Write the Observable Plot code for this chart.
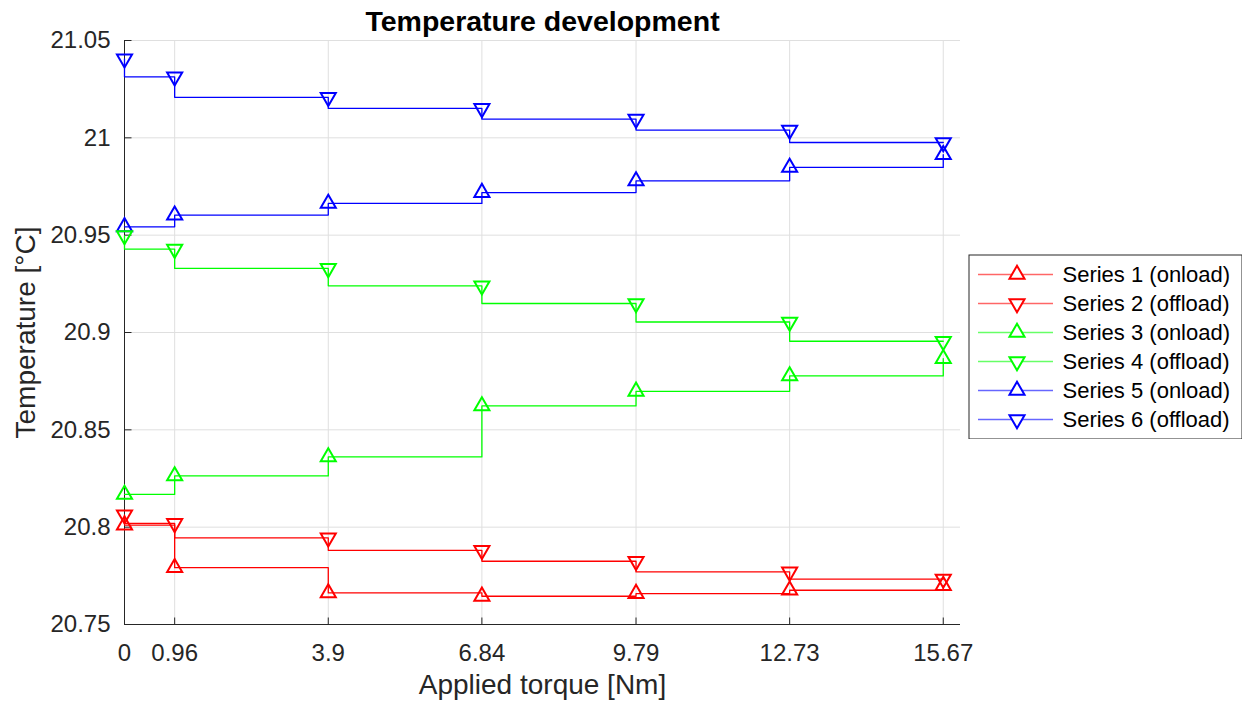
<!DOCTYPE html>
<html>
<head>
<meta charset="utf-8">
<script src="https://cdn.jsdelivr.net/npm/d3@7"></script>
<script src="https://cdn.jsdelivr.net/npm/@observablehq/plot@0.6"></script>
<style>
  body { margin: 0; background: #fff; }
  #wrap { position: relative; width: 1242px; height: 701px; font-family: "Liberation Sans", Arial, Helvetica, sans-serif; }
  #legend { position: absolute; left: 968px; top: 254px; }
</style>
</head>
<body>
<div id="wrap"><div id="main"></div><div id="legend"></div></div>
<script>
// Applied torque steps [Nm]
const torque = [0, 0.96, 3.9, 6.84, 9.79, 12.73, 15.67];

// Temperature [°C] at each torque step
const series1 = [20.8011, 20.7792, 20.7662, 20.7645, 20.7659, 20.7676, 20.7700];
const series2 = [20.8063, 20.8019, 20.7945, 20.7881, 20.7825, 20.7770, 20.7733];
const series3 = [20.8168, 20.8263, 20.8361, 20.8623, 20.8698, 20.8777, 20.8866];
const series4 = [20.9498, 20.9428, 20.9329, 20.9240, 20.9149, 20.9054, 20.8955];
const series5 = [20.9543, 20.9603, 20.9663, 20.9719, 20.9779, 20.9848, 20.9913];
const series6 = [21.0406, 21.0313, 21.0208, 21.0151, 21.0096, 21.0040, 20.9976];

const seriesNames = [
  "Series 1 (onload)", "Series 2 (offload)", "Series 3 (onload)",
  "Series 4 (offload)", "Series 5 (onload)", "Series 6 (offload)"
];
const seriesKind = ["onload", "offload", "onload", "offload", "onload", "offload"];
const seriesColors = ["#ff0000", "#ff0000", "#00ff00", "#00ff00", "#0000ff", "#0000ff"];
const yTicks = [20.75, 20.8, 20.85, 20.9, 20.95, 21, 21.05];

const allSeries = [series1, series2, series3, series4, series5, series6];
const rows = [];
allSeries.forEach((vals, i) => vals.forEach((v, j) => rows.push({
  series: seriesNames[i], kind: seriesKind[i], torque: torque[j], temp: v
})));
const onload = rows.filter(d => d.kind === "onload");
const offload = rows.filter(d => d.kind === "offload");
const legendRows = seriesNames.map((s, i) => ({series: s, kind: seriesKind[i]}));

// Triangle markers: upward uses d3's centroid-centred triangle, downward is its mirror
const SQ3 = Math.sqrt(3);
const triangleUp = d3.symbolTriangle;
const triangleDown = {
  draw(ctx, size) {
    const y = -Math.sqrt(size / (SQ3 * 3));
    ctx.moveTo(0, -y * 2);
    ctx.lineTo(-SQ3 * y, y);
    ctx.lineTo(SQ3 * y, y);
    ctx.closePath();
  }
};
// Inward tick marks
const tickUp = { draw(ctx) { ctx.moveTo(0, 0); ctx.lineTo(0, -7); } };
const tickRight = { draw(ctx) { ctx.moveTo(0, 0); ctx.lineTo(7, 0); } };

const font = '"Liberation Sans", Arial, Helvetica, sans-serif';
const axisColor = "#262626";
const gridColor = "#dfdfdf";
const markerR = 5.6;

const chart = Plot.plot({
  width: 1242,
  height: 701,
  marginLeft: 124,
  marginRight: 282,
  marginTop: 40,
  marginBottom: 77,
  style: { fontFamily: font, fontSize: "24px", color: axisColor, background: "white" },
  x: { domain: [0, 16] },
  y: { domain: [20.75, 21.05] },
  color: { domain: seriesNames, range: seriesColors },
  marks: [
    Plot.gridX(torque, { stroke: gridColor, strokeOpacity: 1 }),
    Plot.gridY(yTicks, { stroke: gridColor, strokeOpacity: 1 }),
    Plot.ruleX([0], { stroke: axisColor }),
    Plot.ruleY([20.75], { stroke: axisColor }),
    Plot.dot(torque, { x: d => d, y: () => 20.75, symbol: tickUp, stroke: axisColor, strokeWidth: 1 }),
    Plot.dot(yTicks, { x: () => 0, y: d => d, symbol: tickRight, stroke: axisColor, strokeWidth: 1 }),
    Plot.axisX(torque, { tickSize: 0, tickPadding: 19, label: null, tickFormat: d => String(d), fontSize: 24 }),
    Plot.axisY(yTicks, { tickSize: 0, tickPadding: 14, label: null, tickFormat: d => String(+d.toFixed(2)), fontSize: 24 }),
    // onload series step after each point, offload series step before
    Plot.line(onload, { x: "torque", y: "temp", z: "series", stroke: "series", curve: "step-after", strokeWidth: 1.3 }),
    Plot.line(offload, { x: "torque", y: "temp", z: "series", stroke: "series", curve: "step-before", strokeWidth: 1.3 }),
    Plot.dot(onload, { x: "torque", y: "temp", stroke: "series", symbol: triangleUp, r: markerR, strokeWidth: 2, fill: "none" }),
    Plot.dot(offload, { x: "torque", y: "temp", stroke: "series", symbol: triangleDown, r: markerR, strokeWidth: 2, fill: "none" }),
    Plot.text(["Temperature development"], { frameAnchor: "top", dy: -19, lineAnchor: "middle", textAnchor: "middle", fontWeight: "bold", fontSize: 28.5, fill: "#000" }),
    Plot.text(["Applied torque [Nm]"], { frameAnchor: "bottom", dy: 61, lineAnchor: "middle", textAnchor: "middle", fontSize: 28, fill: axisColor }),
    Plot.text(["Temperature [°C]"], { frameAnchor: "left", dx: -98, rotate: -90, lineAnchor: "middle", textAnchor: "middle", fontSize: 28, fill: axisColor })
  ]
});
document.getElementById("main").appendChild(chart);

const legend = Plot.plot({
  width: 274,
  height: 185,
  margin: 0,
  style: { fontFamily: font, background: "white" },
  x: { domain: [0, 274], range: [0, 274], axis: null },
  y: { type: "point", domain: seriesNames, range: [19.3, 165.3], padding: 0, axis: null },
  color: { domain: seriesNames, range: seriesColors },
  marks: [
    Plot.frame({ stroke: axisColor, inset: 0.5 }),
    Plot.ruleY(legendRows, { y: "series", x1: () => 10, x2: () => 85, stroke: "series", strokeOpacity: 0.6, strokeWidth: 1.3 }),
    Plot.dot(legendRows.filter(d => d.kind === "onload"), { x: () => 48.5, y: "series", stroke: "series", symbol: triangleUp, r: markerR, strokeWidth: 2, fill: "white" }),
    Plot.dot(legendRows.filter(d => d.kind === "offload"), { x: () => 48.5, y: "series", stroke: "series", symbol: triangleDown, r: markerR, strokeWidth: 2, fill: "white" }),
    Plot.text(legendRows, { x: () => 94, y: "series", text: "series", textAnchor: "start", lineAnchor: "middle", fontSize: 22, fill: "#000" })
  ]
});
document.getElementById("legend").appendChild(legend);
</script>
</body>
</html>
